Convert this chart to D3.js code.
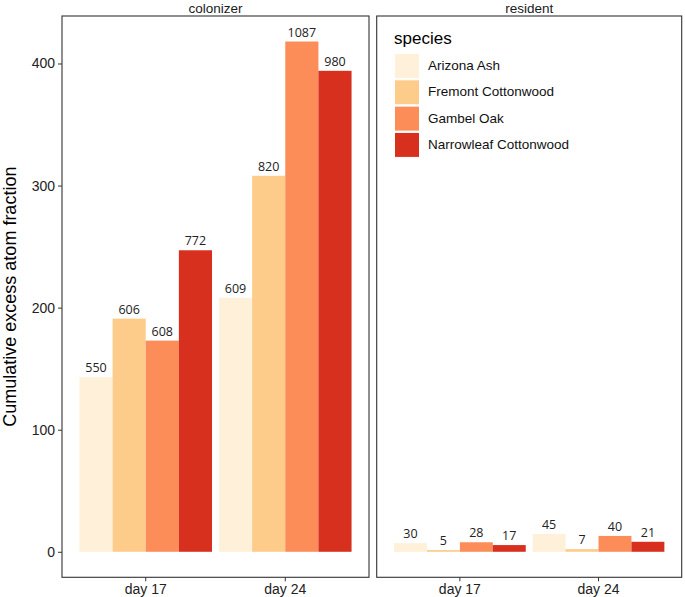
<!DOCTYPE html>
<html>
<head>
<meta charset="utf-8">
<script src="https://cdn.jsdelivr.net/npm/d3@7"></script>
<style>
  body { margin: 0; background: #fff; }
  text { font-family: "Liberation Sans", Arial, sans-serif; }
</style>
</head>
<body>
<div id="chart"></div>
<script>
// data
const panels = ["colonizer", "resident"];
const days = ["day 17", "day 24"];
const species = ["Arizona Ash", "Fremont Cottonwood", "Gambel Oak", "Narrowleaf Cottonwood"];
const colors = ["#FEF0D9", "#FDCC8A", "#FC8D59", "#D7301F"];
// bar heights per panel, per day, per species
const colonizerValues = [[143, 191, 173, 247], [208, 308, 418, 394]];
const residentValues = [[7, 1.4, 7.8, 5.5], [14.5, 2.2, 13, 8.2]];
// counts printed above bars
const colonizerLabels = [[550, 606, 608, 772], [609, 820, 1087, 980]];
const residentLabels = [[30, 5, 28, 17], [45, 7, 40, 21]];
const yTicks = [0, 100, 200, 300, 400];

const width = 685, height = 597;
const svg = d3.select("#chart").append("svg")
    .attr("width", width)
    .attr("height", height);

const plotTop = 16, plotBottom = 577.3;
const panelX = [[62, 369], [376.7, 681.7]];

// y scale shared by both panels (ggplot style 5% expansion)
const y = d3.scaleLinear()
    .domain([-20.9, 438.9])
    .range([plotBottom, plotTop]);

// y axis
const yAxis = svg.append("g")
    .attr("transform", `translate(${panelX[0][0]},0)`)
    .call(d3.axisLeft(y).tickValues(yTicks).tickSize(4).tickPadding(3));
yAxis.select(".domain").remove();
yAxis.selectAll("line").attr("stroke", "#333");
yAxis.selectAll("text").attr("fill", "#222").style("font-size", "14px")
    .style("font-family", "Liberation Sans, Arial, sans-serif");

svg.append("text")
    .attr("transform", `translate(11,${(plotTop + plotBottom) / 2}) rotate(-90)`)
    .attr("text-anchor", "middle")
    .attr("dominant-baseline", "middle")
    .style("font-size", "18px")
    .attr("fill", "#000")
    .text("Cumulative excess atom fraction");

const allValues = [colonizerValues, residentValues];
const allLabels = [colonizerLabels, residentLabels];

panels.forEach((p, pi) => {
    const [x0, x1] = panelX[pi];

    // day positions like ggplot discrete scale, dodge width 0.95
    const x = d3.scaleBand()
        .domain(days)
        .range([x0, x1])
        .paddingInner(0.05)
        .paddingOuter(0.125);
    const xs = d3.scaleBand()
        .domain(species)
        .range([0, x.bandwidth()]);

    const g = svg.append("g");

    days.forEach((d, di) => {
        const rows = species.map((s, si) => ({
            s: s, v: allValues[pi][di][si], lab: allLabels[pi][di][si], c: colors[si]
        }));
        g.selectAll(null)
            .data(rows)
            .enter().append("rect")
            .attr("x", r => x(d) + xs(r.s))
            .attr("y", r => y(r.v))
            .attr("width", xs.bandwidth())
            .attr("height", r => y(0) - y(r.v))
            .attr("fill", r => r.c);

        g.selectAll(null)
            .data(rows)
            .enter().append("text")
            .attr("x", r => x(d) + xs(r.s) + xs.bandwidth() / 2)
            .attr("y", r => y(r.v) - 5)
            .attr("text-anchor", "middle")
            .style("font-size", "12.5px")
            .style("font-family", "Open Sans, sans-serif")
            .attr("fill", "#222")
            .text(r => r.lab);
    });

    // panel border
    svg.append("rect")
        .attr("x", x0)
        .attr("y", plotTop)
        .attr("width", x1 - x0)
        .attr("height", plotBottom - plotTop)
        .attr("fill", "none")
        .attr("stroke", "#333")
        .attr("stroke-width", 1.1);

    // strip label
    svg.append("text")
        .attr("x", (x0 + x1) / 2)
        .attr("y", 12.5)
        .attr("text-anchor", "middle")
        .style("font-size", "13.5px")
        .attr("fill", "#1a1a1a")
        .text(p);

    // x axis
    const xAxis = svg.append("g")
        .attr("transform", `translate(0,${plotBottom})`)
        .call(d3.axisBottom(x).tickSize(4).tickPadding(3));
    xAxis.select(".domain").remove();
    xAxis.selectAll("line").attr("stroke", "#333");
    xAxis.selectAll("text").attr("fill", "#222").style("font-size", "14px")
        .style("font-family", "Liberation Sans, Arial, sans-serif");
});

// legend inside the resident panel
const legend = svg.append("g").attr("transform", "translate(394,0)");
legend.append("text")
    .attr("x", 0)
    .attr("y", 44)
    .style("font-size", "17px")
    .attr("fill", "#000")
    .text("species");

legend.selectAll(null)
    .data(species)
    .enter().append("rect")
    .attr("x", 0.5)
    .attr("y", (d, i) => 53.5 + i * 26.3)
    .attr("width", 25)
    .attr("height", 25)
    .attr("fill", (d, i) => colors[i])
    .attr("stroke", "#fff")
    .attr("stroke-width", 1);

legend.selectAll(null)
    .data(species)
    .enter().append("text")
    .attr("x", 34)
    .attr("y", (d, i) => 66.5 + i * 26.3)
    .attr("dominant-baseline", "middle")
    .style("font-size", "13.5px")
    .attr("fill", "#111")
    .text(d => d);
</script>
</body>
</html>
